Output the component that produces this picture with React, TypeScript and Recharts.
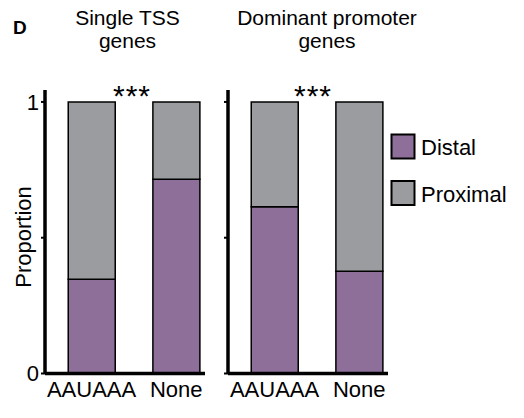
import { BarChart, Bar, XAxis, YAxis } from "recharts";

const categories = ["AAUAAA", "None"];
const seriesNames = ["Distal", "Proximal"];
const seriesColors = ["#8e6f99", "#9b9c9f"];

const singleTssDistal = [0.347, 0.715];
const singleTssProximal = [0.653, 0.285];
const dominantDistal = [0.614, 0.377];
const dominantProximal = [0.386, 0.623];

const panelTitles = [
  ["Single TSS", "genes"],
  ["Dominant promoter", "genes"],
];
const significance = ["***", "***"];
const yTicks = [0, 0.5, 1];

const FONT = "'Liberation Sans', Arial, Helvetica, sans-serif";

const toRows = (distal: number[], proximal: number[]) =>
  categories.map((name, i) => ({ idx: i, name, distal: distal[i], proximal: proximal[i] }));

const singleRows = toRows(singleTssDistal, singleTssProximal);
const dominantRows = toRows(dominantDistal, dominantProximal);

function Panel({
  rows,
  left,
  showYLabels,
}: {
  rows: { idx: number; name: string; distal: number; proximal: number }[];
  left: number;
  showYLabels: boolean;
}) {
  return (
    <div style={{ position: "absolute", left, top: 0 }}>
      <BarChart
        width={215}
        height={418}
        data={rows}
        margin={{ top: 90, right: 10, bottom: 0, left: 0 }}
      >
        <XAxis
          dataKey="idx"
          type="number"
          domain={[-0.55, 1.34]}
          ticks={[0, 1]}
          allowDataOverflow
          tickFormatter={(v) => categories[v] ?? ""}
          height={44.5}
          tickSize={0}
          tickMargin={8}
          axisLine={{ stroke: "#000", strokeWidth: 3.5 }}
          tickLine={false}
          tick={{ fill: "#000", fontSize: 22, fontFamily: FONT }}
        />
        <YAxis
          type="number"
          domain={[0, 1.044]}
          ticks={yTicks}
          allowDataOverflow
          width={45}
          tickSize={4}
          tickMargin={2}
          tickFormatter={(v) => (showYLabels && v !== 0.5 ? String(v) : "")}
          axisLine={{ stroke: "#000", strokeWidth: 3.5 }}
          tickLine={{ stroke: "#000", strokeWidth: 2 }}
          tick={{ fill: "#000", fontSize: 22, fontFamily: FONT }}
        />
        <Bar
          dataKey="distal"
          name={seriesNames[0]}
          stackId="a"
          barSize={47}
          fill={seriesColors[0]}
          stroke="#000"
          strokeWidth={1.5}
          isAnimationActive={false}
        />
        <Bar
          dataKey="proximal"
          name={seriesNames[1]}
          stackId="a"
          barSize={47}
          fill={seriesColors[1]}
          stroke="#000"
          strokeWidth={1.5}
          isAnimationActive={false}
        />
      </BarChart>
    </div>
  );
}

export default function App() {
  return (
    <div
      style={{
        position: "absolute",
        left: 0,
        top: 0,
        width: 524,
        height: 418,
        background: "#fff",
        fontFamily: FONT,
      }}
    >
      <Panel rows={singleRows} left={0} showYLabels={true} />
      <Panel rows={dominantRows} left={183} showYLabels={false} />

      <svg
        width={524}
        height={418}
        style={{ position: "absolute", left: 0, top: 0, pointerEvents: "none" }}
        fontFamily={FONT}
      >
        <text x={13} y={34} fontSize={19} fontWeight="bold">
          D
        </text>
        {panelTitles.map((lines, p) =>
          lines.map((line, j) => (
            <text
              key={`${p}-${j}`}
              x={p === 0 ? 127.5 : 327}
              y={25 + j * 23}
              fontSize={21}
              textAnchor="middle"
            >
              {line}
            </text>
          ))
        )}
        {significance.map((s, p) => (
          <text
            key={p}
            x={p === 0 ? 132 : 313}
            y={106}
            fontSize={30}
            letterSpacing={1}
            textAnchor="middle"
          >
            {s}
          </text>
        ))}
        <text
          x={31}
          y={237}
          fontSize={22}
          textAnchor="middle"
          transform="rotate(-90, 31, 237)"
        >
          Proportion
        </text>
        {seriesNames.map((name, i) => (
          <g key={name}>
            <rect
              x={391.5}
              y={134.5 + i * 46.5}
              width={23}
              height={24}
              fill={seriesColors[i]}
              stroke="#000"
              strokeWidth={2}
            />
            <text x={421} y={155 + i * 46.5} fontSize={22}>
              {name}
            </text>
          </g>
        ))}
      </svg>
    </div>
  );
}
